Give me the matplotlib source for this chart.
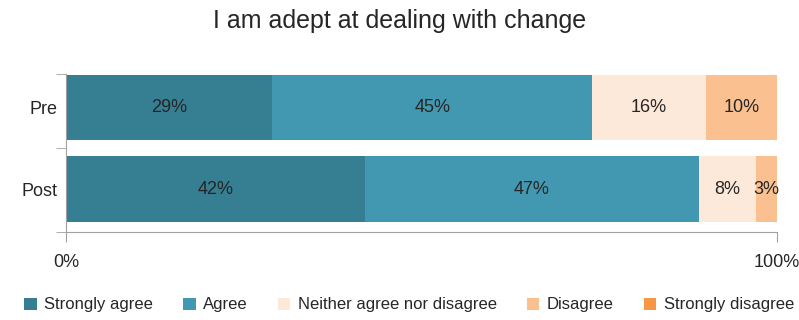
import matplotlib.pyplot as plt
from matplotlib.patches import Patch

# survey responses, percent
groups = ['Pre', 'Post']
categories = ['Strongly agree', 'Agree', 'Neither agree nor disagree',
              'Disagree', 'Strongly disagree']
values = {
    'Strongly agree': [29, 42],
    'Agree': [45, 47],
    'Neither agree nor disagree': [16, 8],
    'Disagree': [10, 3],
    'Strongly disagree': [0, 0],
}
colors = ['#367E92', '#4398B1', '#FDE9DA', '#FAC08F', '#F79646']

plt.rcParams['font.family'] = ['Liberation Sans', 'DejaVu Sans']

fig = plt.figure(figsize=(7.99, 3.2), dpi=100)
ax = fig.add_axes([66 / 799, 1 - 232 / 320, 711 / 799, (232 - 74.5) / 320])

ypos = list(range(len(groups)))
left = [0] * len(groups)
for cat, col in zip(categories, colors):
    vals = values[cat]
    ax.barh(ypos, vals, left=left, height=0.805, color=col, edgecolor='none')
    for y, l, v in zip(ypos, left, vals):
        if v > 0:
            ax.text(l + v / 2, y, f'{v}%', ha='center', va='center',
                    fontsize=13, color='#262626')
    left = [a + b for a, b in zip(left, vals)]

ax.set_xlim(0, 100)
ax.set_ylim(1.524, -0.402)
ax.set_xticks([0, 100])
ax.set_xticklabels(['0%', '100%'], fontsize=13, color='#262626')
ax.set_yticks(ypos)
ax.set_yticklabels(groups, fontsize=13, color='#262626')
ax.tick_params(axis='y', length=0, pad=6)
ax.set_yticks([-0.402, 0.5, 1.524], minor=True)
ax.tick_params(axis='y', which='minor', length=7, color='#A0A0A0')
ax.tick_params(axis='x', length=7, color='#A0A0A0', pad=9)
for s in ['top', 'right']:
    ax.spines[s].set_visible(False)
for s in ['left', 'bottom']:
    ax.spines[s].set_color('#A0A0A0')

fig.text(0.5, 1 - 21 / 320, 'I am adept at dealing with change',
         ha='center', va='center', fontsize=18, color='#262626')

handles = [Patch(facecolor=c, edgecolor='none') for c in colors]
fig.legend(handles, categories, loc='center', bbox_to_anchor=(0.512, 1 - 305 / 320),
           ncol=5, frameon=False, fontsize=12, handlelength=0.75, handleheight=0.75,
           handletextpad=0.45, columnspacing=1.8, labelcolor='#262626')

fig.savefig('out.png', dpi=100)
